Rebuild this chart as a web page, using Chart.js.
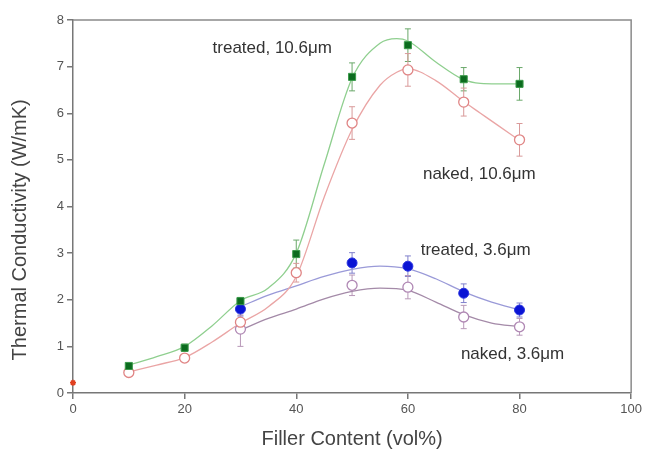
<!DOCTYPE html>
<html>
<head>
<meta charset="utf-8">
<script src="https://cdn.jsdelivr.net/npm/chart.js@4.4.0/dist/chart.umd.min.js"></script>
<style>
  html, body { margin: 0; padding: 0; background: #fff; }
  #caixa { width: 645px; height: 451px; }
</style>
</head>
<body>
<div id="caixa"><canvas id="graf_condutividade"></canvas></div>
<script>
// pontos medidos (vol%)
const xPontos106 = [10, 20, 30, 40, 50, 60, 70, 80];
const tratado106 = [0.58, 0.97, 1.97, 2.98, 6.78, 7.46, 6.73, 6.63];
const erroTratado106 = [0.05, 0.08, 0.08, 0.3, 0.3, 0.35, 0.25, 0.35];
const nu106 = [0.44, 0.75, 1.52, 2.58, 5.79, 6.93, 6.24, 5.43];
const erroNu106 = [0.05, 0.05, 0.15, 0.2, 0.35, 0.35, 0.3, 0.35];

const xPontos36 = [30, 50, 60, 70, 80];
const tratado36 = [1.8, 2.79, 2.72, 2.14, 1.78];
const erroTratado36 = [0.15, 0.22, 0.22, 0.2, 0.15];
const nu36 = [1.37, 2.31, 2.27, 1.63, 1.42];
const erroNu36 = [0.37, 0.22, 0.25, 0.25, 0.18];

const xMatriz = [0];
const matriz = [0.22];

// curvas ajustadas
const xCurva106 = [10, 15, 20, 25, 30, 35, 40, 45, 50, 55, 58, 60, 65, 70, 73, 76, 80];
const curvaTratado106 = [0.6, 0.78, 1.0, 1.45, 1.98, 2.25, 3.0, 4.9, 6.75, 7.5, 7.6, 7.55, 7.1, 6.72, 6.64, 6.63, 6.63];
const curvaNu106 = [0.45, 0.6, 0.76, 1.1, 1.5, 1.85, 2.5, 4.2, 5.65, 6.6, 6.88, 6.95, 6.7, 6.25, 6.0, 5.75, 5.42];

const xCurva36 = [30, 35, 40, 45, 50, 55, 60, 65, 70, 75, 80];
const curvaTratado36 = [1.85, 2.1, 2.3, 2.5, 2.65, 2.72, 2.66, 2.45, 2.17, 1.95, 1.78];
const curvaNu36 = [1.35, 1.6, 1.8, 2.02, 2.18, 2.25, 2.2, 1.95, 1.68, 1.5, 1.42];

// textos
const rotulos = ["treated, 10.6\u03bcm", "naked, 10.6\u03bcm", "treated, 3.6\u03bcm", "naked, 3.6\u03bcm"];
const rotulosX = [25, 62.7, 62.3, 69.5];
const rotulosY = [7.4, 4.68, 3.07, 0.82];
const tituloY = "Thermal Conductivity (W/mK)";

const ticksX = [0, 20, 40, 60, 80, 100];

const fonte = "'Liberation Sans', Arial, sans-serif";

function juntar(xs, ys) {
  return xs.map((x, i) => ({ x: x, y: ys[i] }));
}

// barras de erro desenhadas pelas escalas do chart
const erros = [
  { xs: xPontos106, ys: tratado106, e: erroTratado106, cor: "#6aa86a" },
  { xs: xPontos106, ys: nu106, e: erroNu106, cor: "#d99a9a" },
  { xs: xPontos36, ys: tratado36, e: erroTratado36, cor: "#8080cc" },
  { xs: xPontos36, ys: nu36, e: erroNu36, cor: "#b898b8" },
];

const pluginErros = {
  id: "erros",
  beforeDatasetsDraw(chart) {
    const ctx = chart.ctx;
    const sx = chart.scales.x, sy = chart.scales.y;
    ctx.save();
    ctx.lineWidth = 1;
    erros.forEach((s) => {
      ctx.strokeStyle = s.cor;
      s.xs.forEach((x, i) => {
        const px = sx.getPixelForValue(x);
        const top = sy.getPixelForValue(s.ys[i] + s.e[i]);
        const bot = sy.getPixelForValue(s.ys[i] - s.e[i]);
        ctx.beginPath();
        ctx.moveTo(px, top); ctx.lineTo(px, bot);
        ctx.moveTo(px - 3, top); ctx.lineTo(px + 3, top);
        ctx.moveTo(px - 3, bot); ctx.lineTo(px + 3, bot);
        ctx.stroke();
      });
    });
    ctx.restore();
  },
};

const pluginMoldura = {
  id: "moldura",
  afterDraw(chart) {
    const ctx = chart.ctx;
    const a = chart.chartArea;
    const sx = chart.scales.x, sy = chart.scales.y;
    ctx.save();
    ctx.strokeStyle = "#8a8a8a";
    ctx.lineWidth = 1.5;
    ctx.beginPath();
    ctx.moveTo(a.left, a.top); ctx.lineTo(a.right, a.top); ctx.lineTo(a.right, a.bottom);
    ctx.stroke();
    // rotulos das curvas
    ctx.fillStyle = "#333";
    ctx.font = "17px " + fonte;
    ctx.textBaseline = "middle";
    ctx.textAlign = "left";
    rotulos.forEach((t, i) => {
      ctx.fillText(t, sx.getPixelForValue(rotulosX[i]), sy.getPixelForValue(rotulosY[i]));
    });
    // titulo do eixo y, um pouco abaixo do centro como no original
    ctx.fillStyle = "#444";
    ctx.font = "20px " + fonte;
    ctx.textAlign = "center";
    ctx.translate(20, sy.getPixelForValue(3.5));
    ctx.rotate(-Math.PI / 2);
    ctx.fillText(tituloY, 0, 0);
    ctx.restore();
  },
};

const dados = {
  datasets: [
    { label: "curva tratado 10.6", data: juntar(xCurva106, curvaTratado106), showLine: true, borderColor: "#8fcf8f", borderWidth: 1.3, pointRadius: 0, cubicInterpolationMode: "monotone", order: 3 },
    { label: "curva nu 10.6", data: juntar(xCurva106, curvaNu106), showLine: true, borderColor: "#eaa5a5", borderWidth: 1.3, pointRadius: 0, cubicInterpolationMode: "monotone", order: 3 },
    { label: "curva tratado 3.6", data: juntar(xCurva36, curvaTratado36), showLine: true, borderColor: "#9a9ad8", borderWidth: 1.3, pointRadius: 0, cubicInterpolationMode: "monotone", order: 3 },
    { label: "curva nu 3.6", data: juntar(xCurva36, curvaNu36), showLine: true, borderColor: "#a48aa8", borderWidth: 1.3, pointRadius: 0, cubicInterpolationMode: "monotone", order: 3 },
    { label: "naked 10.6", data: juntar(xPontos106, nu106), pointStyle: "circle", pointRadius: 5, backgroundColor: "#ffffff", borderColor: "#e08585", borderWidth: 1.3, order: 1 },
    { label: "naked 3.6", data: juntar(xPontos36, nu36), pointStyle: "circle", pointRadius: 5, backgroundColor: "#ffffff", borderColor: "#b088b4", borderWidth: 1.3, order: 1 },
    { label: "treated 10.6", data: juntar(xPontos106, tratado106), pointStyle: "rect", pointRadius: 5, backgroundColor: "#0b6b1e", borderColor: "#3a9a4a", borderWidth: 1, order: 0 },
    { label: "treated 3.6", data: juntar(xPontos36, tratado36), pointStyle: "circle", pointRadius: 5, backgroundColor: "#0a14d4", borderColor: "#2a34e0", borderWidth: 1, order: 0 },
    { label: "matriz", data: juntar(xMatriz, matriz), pointStyle: "star", pointRadius: 3, backgroundColor: "#e04020", borderColor: "#e04020", borderWidth: 1.5, order: 0 },
  ],
};

const config = {
  type: "scatter",
  data: dados,
  options: {
    responsive: true,
    maintainAspectRatio: false,
    animation: false,
    clip: false,
    layout: { padding: { top: 20, right: 12, left: 0, bottom: 0 } },
    plugins: { legend: { display: false }, tooltip: { enabled: false } },
    scales: {
      x: {
        type: "linear",
        min: 0,
        max: 100,
        afterBuildTicks: (s) => { s.ticks = ticksX.map((v) => ({ value: v })); },
        afterFit: (s) => { s.height = 58; },
        grid: { drawOnChartArea: false, drawTicks: true, tickLength: 6, color: "#777", lineWidth: 1.5 },
        border: { display: true, color: "#777", width: 1.5 },
        ticks: { color: "#555", font: { size: 13, family: fonte }, padding: 3 },
        title: { display: true, text: "Filler Content (vol%)", color: "#444", font: { size: 20, family: fonte }, padding: { top: 4, bottom: 0 } },
      },
      y: {
        min: 0,
        max: 8,
        ticks: { stepSize: 1, color: "#555", font: { size: 13, family: fonte }, padding: 3 },
        afterFit: (s) => { s.width = 73; },
        grid: { drawOnChartArea: false, drawTicks: true, tickLength: 6, color: "#777", lineWidth: 1.5 },
        border: { display: true, color: "#777", width: 1.5 },
        title: { display: false },
      },
    },
  },
  plugins: [pluginErros, pluginMoldura],
};

const grafico = new Chart(document.getElementById("graf_condutividade"), config);
</script>
</body>
</html>
